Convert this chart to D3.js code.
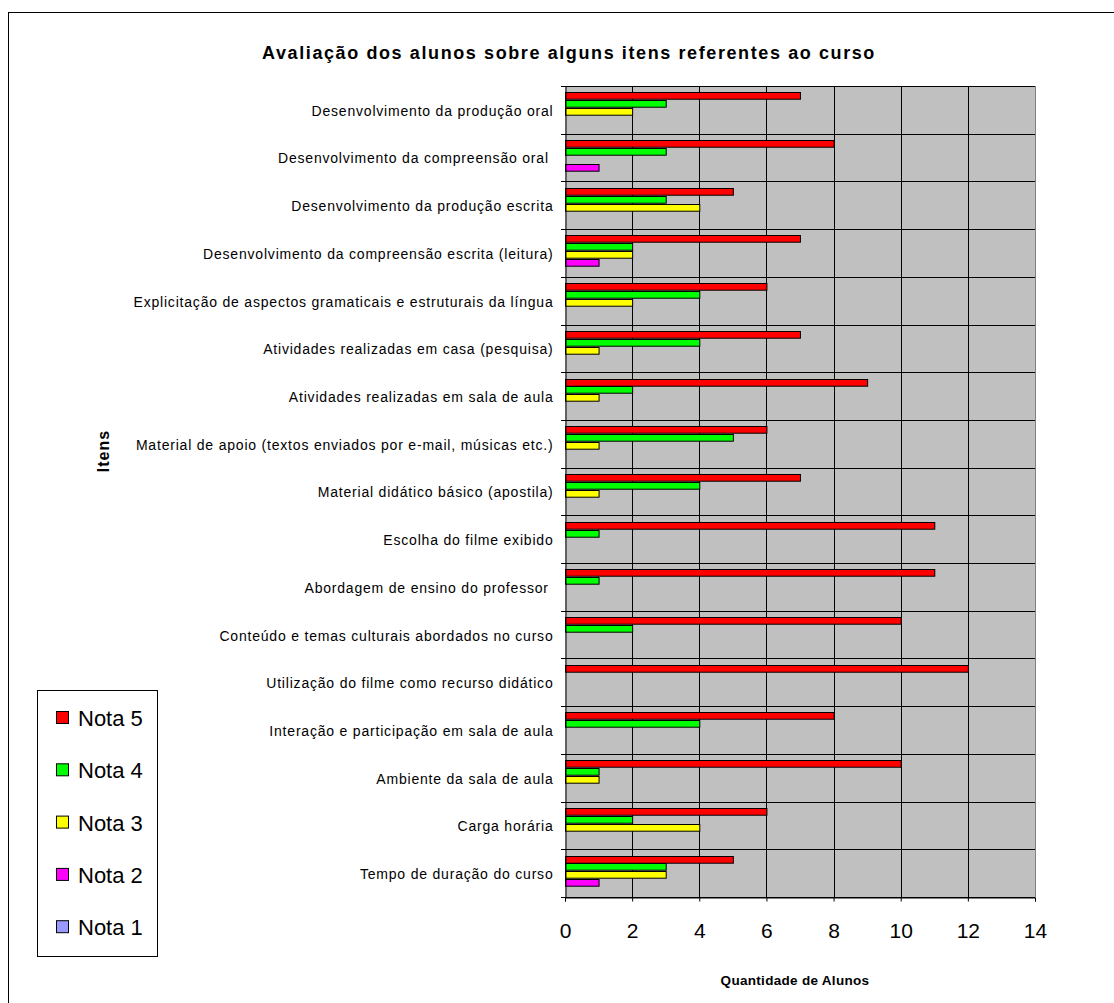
<!DOCTYPE html>
<html>
<head>
<meta charset="utf-8">
<script src="https://cdn.jsdelivr.net/npm/d3@7"></script>
<style>
  html, body { margin: 0; padding: 0; background: #fff; }
  svg { display: block; font-family: "Liberation Sans", Arial, sans-serif; }
</style>
</head>
<body>
<svg id="chart" width="1114" height="1003"></svg>
<script>
const categories = [
  "Desenvolvimento da produção oral",
  "Desenvolvimento da compreensão oral ",
  "Desenvolvimento da produção escrita",
  "Desenvolvimento da compreensão escrita (leitura)",
  "Explicitação de aspectos gramaticais e estruturais da língua",
  "Atividades realizadas em casa (pesquisa)",
  "Atividades realizadas em sala de aula",
  "Material de apoio (textos enviados por e-mail, músicas etc.)",
  "Material didático básico (apostila)",
  "Escolha do filme exibido",
  "Abordagem de ensino do professor ",
  "Conteúdo e temas culturais abordados no curso",
  "Utilização do filme como recurso didático",
  "Interação e participação em sala de aula",
  "Ambiente da sala de aula",
  "Carga horária",
  "Tempo de duração do curso"
];
const seriesNames = ["Nota 5", "Nota 4", "Nota 3", "Nota 2", "Nota 1"];
const nota5 = [7, 8, 5, 7, 6, 7, 9, 6, 7, 11, 11, 10, 12, 8, 10, 6, 5];
const nota4 = [3, 3, 3, 2, 4, 4, 2, 5, 4, 1, 1, 2, 0, 4, 1, 2, 3];
const nota3 = [2, 0, 4, 2, 2, 1, 1, 1, 1, 0, 0, 0, 0, 0, 1, 4, 3];
const nota2 = [0, 1, 0, 1, 0, 0, 0, 0, 0, 0, 0, 0, 0, 0, 0, 0, 1];
const nota1 = [0, 0, 0, 0, 0, 0, 0, 0, 0, 0, 0, 0, 0, 0, 0, 0, 0];
const xTicks = [0, 2, 4, 6, 8, 10, 12, 14];
const title = "Avaliação dos alunos sobre alguns itens referentes ao curso";
const xTitle = "Quantidade de Alunos";
const yTitle = "Itens";

const seriesValues = [nota5, nota4, nota3, nota2, nota1];
const colors = ["#FF0000", "#00FF00", "#FFFF00", "#FF00FF", "#9999FF"];

const svg = d3.select("#chart");
const plot = { left: 565, right: 1035, top: 86, bottom: 897 };

// outer chart border
svg.append("rect").attr("x", 8.5).attr("y", 12.5).attr("width", 1200).attr("height", 1100)
  .attr("fill", "#fff").attr("stroke", "#000").attr("stroke-width", 1);

const x = d3.scaleLinear().domain([0, 14]).range([plot.left, plot.right]);
const y = d3.scaleBand().domain(categories).range([plot.top, plot.bottom]).paddingInner(0).paddingOuter(0);
const barStep = 7.9, barOffset = 6.3;
const ySub = d3.scaleBand().domain(seriesNames).range([barOffset, barOffset + barStep * 5]).padding(0);

// plot background
svg.append("rect").attr("x", plot.left).attr("y", plot.top)
  .attr("width", plot.right - plot.left).attr("height", plot.bottom - plot.top)
  .attr("fill", "#C0C0C0");

// vertical gridlines
svg.append("g").selectAll("line").data(xTicks.filter(t => t > 0 && t < 14)).join("line")
  .attr("x1", d => Math.round(x(d)) + 0.5).attr("x2", d => Math.round(x(d)) + 0.5)
  .attr("y1", plot.top).attr("y2", plot.bottom)
  .attr("stroke", "#000").attr("stroke-width", 1);

// horizontal gridlines at band boundaries
const bounds = categories.map(c => y(c)).concat([plot.bottom]);
svg.append("g").selectAll("line").data(bounds).join("line")
  .attr("x1", plot.left).attr("x2", plot.right)
  .attr("y1", d => Math.round(d) + 0.5).attr("y2", d => Math.round(d) + 0.5)
  .attr("stroke", "#000").attr("stroke-width", 1);

// right border (grey)
svg.append("line").attr("x1", Math.round(x(14)) + 0.5).attr("x2", Math.round(x(14)) + 0.5)
  .attr("y1", plot.top).attr("y2", plot.bottom).attr("stroke", "#808080");

// bars
const barData = [];
categories.forEach((c, ci) => {
  seriesNames.forEach((s, si) => {
    const v = seriesValues[si][ci];
    if (v > 0) barData.push({ c, s, si, v });
  });
});
svg.append("g").selectAll("rect").data(barData).join("rect")
  .attr("x", x(0) + 0.5)
  .attr("y", d => Math.round(y(d.c) + ySub(d.s)) + 0.5)
  .attr("width", d => x(d.v) - x(0))
  .attr("height", barStep - 1.2)
  .attr("fill", d => colors[d.si])
  .attr("stroke", "#000").attr("stroke-width", 1);

// x axis
const xAxis = d3.axisBottom(x).tickValues(xTicks).tickSize(4).tickPadding(22).tickFormat(d3.format("d"));
const gx = svg.append("g").attr("transform", `translate(0,${plot.bottom + 0.5})`).call(xAxis);
gx.select(".domain").attr("stroke", "#000");
gx.selectAll(".tick line").attr("stroke", "#000");
gx.selectAll("text").attr("font-size", 21).attr("fill", "#000")
  .attr("font-family", "'Liberation Sans', Arial, sans-serif");

// y axis
const yAxis = d3.axisLeft(y).tickSize(0).tickPadding(12);
const gy = svg.append("g").attr("transform", `translate(${plot.left + 0.5},0)`).call(yAxis);
gy.select(".domain").attr("stroke", "#000");
gy.selectAll("text").attr("font-size", 14).attr("fill", "#000")
  .attr("letter-spacing", "0.8px").attr("dy", "0.42em")
  .attr("font-family", "'Liberation Sans', Arial, sans-serif")
  .style("white-space", "pre");
// y tick marks at band boundaries
svg.append("g").selectAll("line").data(bounds).join("line")
  .attr("x1", plot.left - 4).attr("x2", plot.left)
  .attr("y1", d => Math.round(d) + 0.5).attr("y2", d => Math.round(d) + 0.5)
  .attr("stroke", "#000");

// title
svg.append("text").attr("x", 569).attr("y", 59).attr("text-anchor", "middle")
  .attr("font-size", 18).attr("font-weight", "bold").attr("letter-spacing", "1.6px").text(title);

// x axis title
svg.append("text").attr("x", 795).attr("y", 985).attr("text-anchor", "middle")
  .attr("font-size", 13.5).attr("font-weight", "bold").attr("letter-spacing", "0.3px").text(xTitle);

// y axis title
svg.append("text").attr("transform", "translate(109,451) rotate(-90)").attr("text-anchor", "middle")
  .attr("font-size", 16).attr("font-weight", "bold").attr("letter-spacing", "1px").text(yTitle);

// legend
const legend = svg.append("g");
legend.append("rect").attr("x", 37.5).attr("y", 690.5).attr("width", 120).attr("height", 266)
  .attr("fill", "#fff").attr("stroke", "#000");
const lg = legend.selectAll("g.item").data(seriesNames).join("g").attr("class", "item")
  .attr("transform", (d, i) => `translate(0,${718 + i * 52.3})`);
lg.append("rect").attr("x", 56.5).attr("y", -6.5).attr("width", 12).attr("height", 12)
  .attr("fill", (d, i) => colors[i]).attr("stroke", "#000");
lg.append("text").attr("x", 78).attr("y", 8).attr("font-size", 22).text(d => d);
</script>
</body>
</html>
